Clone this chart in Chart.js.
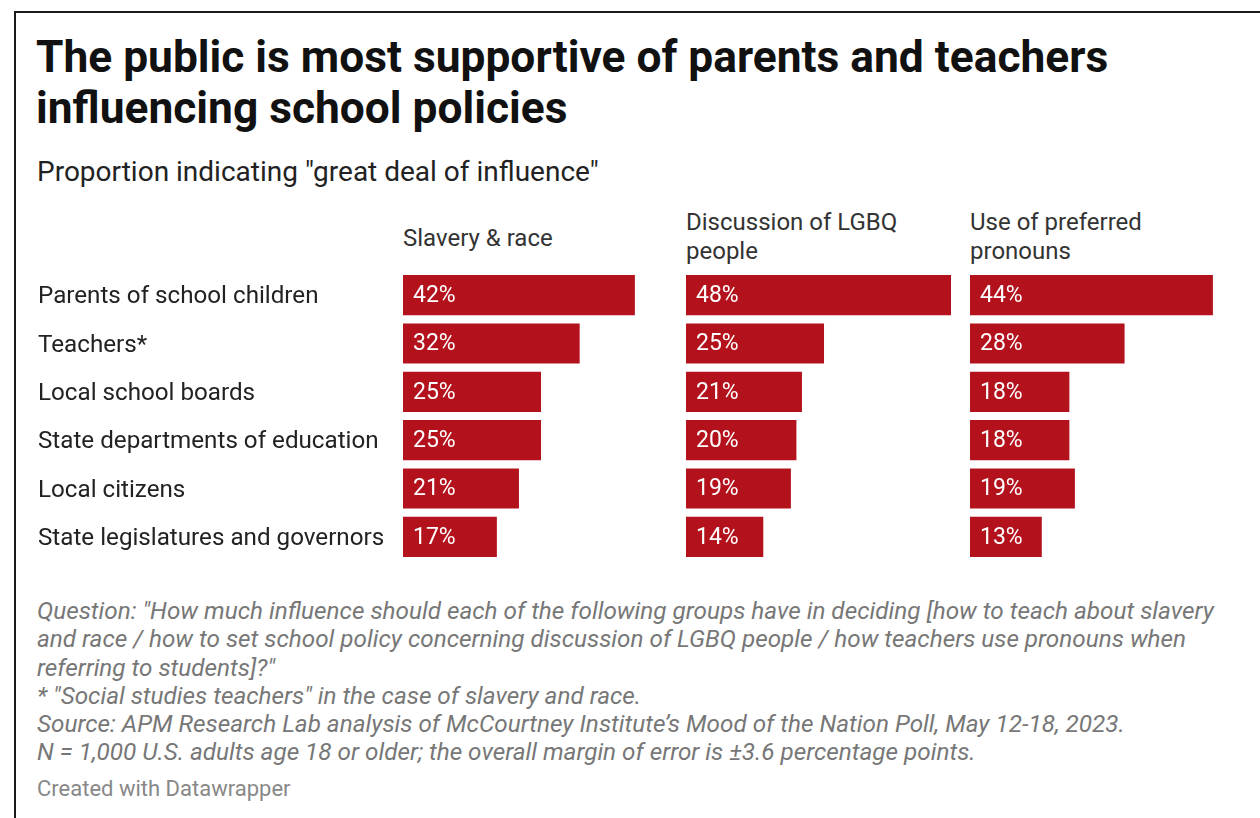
<!DOCTYPE html>
<html>
<head>
<meta charset="utf-8">
<script src="https://cdn.jsdelivr.net/npm/chart.js@4"></script>
<style>
  html, body { margin: 0; padding: 0; background: #fff; }
  body { width: 1260px; height: 818px; position: relative; overflow: hidden; font-family: Roboto, "Noto Sans", sans-serif; }
  .frame { position: absolute; left: 14px; top: 11px; width: 1260px; height: 820px; border-left: 2px solid #1a1a1a; border-top: 2px solid #1a1a1a; }
  .title { position: absolute; left: 36px; top: 32px; font-size: 44.3px; font-weight: 700; line-height: 51px; color: #111; white-space: nowrap; }
  .subtitle { position: absolute; left: 37px; top: 155px; font-size: 28px; line-height: 34px; color: #222; white-space: nowrap; }
  .head { position: absolute; font-size: 24px; line-height: 29px; color: #333; white-space: nowrap; }
  .notes { position: absolute; left: 37px; top: 597px; font-size: 24.3px; font-style: italic; line-height: 28.3px; color: #777; white-space: nowrap; }
  .credit { position: absolute; left: 37px; top: 776px; font-size: 22px; line-height: 26px; color: #888; white-space: nowrap; }
  canvas { position: absolute; }
</style>
</head>
<body>
<div class="frame"></div>
<div class="title">The public is most supportive of parents and teachers<br>influencing school policies</div>
<div class="subtitle">Proportion indicating "great deal of influence"</div>

<div class="head" id="h0" style="left:403px; top:224px;"></div>
<div class="head" id="h1" style="left:686px; top:208px;"></div>
<div class="head" id="h2" style="left:970px; top:208px;"></div>

<canvas id="c0" width="630" height="290" style="left:38px; top:271px;"></canvas>
<canvas id="c1" width="265" height="290" style="left:686px; top:271px;"></canvas>
<canvas id="c2" width="265" height="290" style="left:970px; top:271px;"></canvas>

<div class="notes">Question: "How much influence should each of the following groups have in deciding [how to teach about slavery<br>and race / how to set school policy concerning discussion of LGBQ people / how teachers use pronouns when<br>referring to students]?"<br>* "Social studies teachers" in the case of slavery and race.<br>Source: APM Research Lab analysis of McCourtney Institute’s Mood of the Nation Poll, May 12-18, 2023.<br>N = 1,000 U.S. adults age 18 or older; the overall margin of error is ±3.6 percentage points.</div>
<div class="credit">Created with Datawrapper</div>

<script>
// Groups asked about
const groups = [
  'Parents of school children',
  'Teachers*',
  'Local school boards',
  'State departments of education',
  'Local citizens',
  'State legislatures and governors'
];

// Column headings, one per topic
const topics = [
  ['Slavery & race'],
  ['Discussion of LGBQ', 'people'],
  ['Use of preferred', 'pronouns']
];

// Share saying "great deal of influence" (%)
const slaveryRace = [42, 32, 25, 25, 21, 17];
const lgbqDiscussion = [48, 25, 21, 20, 19, 14];
const preferredPronouns = [44, 28, 18, 18, 19, 13];

const sharedMax = 48;

const barRed = '#b3121d';
const fontFamily = 'Roboto, "Noto Sans", sans-serif';

topics.forEach((lines, i) => {
  document.getElementById('h' + i).innerHTML = lines.join('<br>');
});

// Writes "NN%" inside the left end of each bar
const valueLabels = {
  id: 'valueLabels',
  afterDatasetsDraw(chart) {
    const ctx = chart.ctx;
    const ds = chart.data.datasets[0];
    const meta = chart.getDatasetMeta(0);
    ctx.save();
    ctx.fillStyle = '#ffffff';
    ctx.font = '23px ' + fontFamily;
    ctx.textAlign = 'left';
    ctx.textBaseline = 'middle';
    meta.data.forEach((bar, j) => {
      ctx.fillText(ds.data[j] + '%', bar.base + 10, bar.y + 1);
    });
    ctx.restore();
  }
};

function makePanel(canvasId, values, withLabels) {
  return new Chart(document.getElementById(canvasId), {
    type: 'bar',
    data: {
      labels: groups,
      datasets: [{
        data: values,
        backgroundColor: barRed,
        borderWidth: 0,
        categoryPercentage: 1,
        barPercentage: 0.83
      }]
    },
    options: {
      indexAxis: 'y',
      responsive: false,
      animation: false,
      layout: { padding: 0 },
      plugins: {
        legend: { display: false },
        tooltip: { enabled: false },
        title: { display: false }
      },
      scales: {
        x: {
          display: false,
          min: 0,
          max: sharedMax
        },
        y: {
          display: withLabels,
          grid: { display: false, drawTicks: false },
          border: { display: false },
          ticks: {
            crossAlign: 'far',
            padding: 0,
            labelOffset: 2,
            color: '#222',
            font: { family: fontFamily, size: 24.2 }
          },
          afterFit(scale) {
            if (withLabels) {
              // fixed label column; no extra room above/below the rows
              scale.width = 365;
              scale.paddingTop = 0;
              scale.paddingBottom = 0;
            }
          }
        }
      }
    },
    plugins: [valueLabels]
  });
}

makePanel('c0', slaveryRace, true);
makePanel('c1', lgbqDiscussion, false);
makePanel('c2', preferredPronouns, false);
</script>
</body>
</html>
